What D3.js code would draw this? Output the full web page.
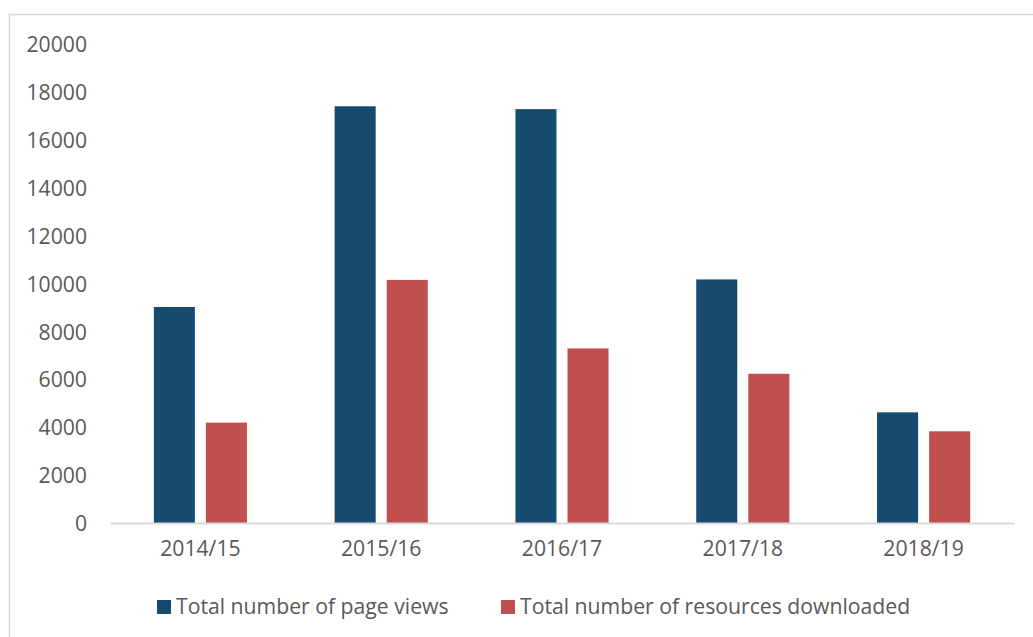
<!DOCTYPE html>
<html>
<head>
<meta charset="utf-8">
<script src="https://cdn.jsdelivr.net/npm/d3@7"></script>
<style>
  html, body { margin: 0; padding: 0; background: #fff; }
  svg { display: block; }
  text { font-family: "Open Sans", "Noto Sans", sans-serif; fill: #595959; }
</style>
</head>
<body>
<svg id="chart" width="1033" height="637"></svg>
<script>
// Academic years on the category axis
const years = ["2014/15", "2015/16", "2016/17", "2017/18", "2018/19"];
// Series values
const pageViews = [9020, 17400, 17280, 10170, 4620];
const downloads = [4190, 10150, 7290, 6230, 3830];
// Series names and value-axis ticks
const seriesNames = ["Total number of page views", "Total number of resources downloaded"];
const yTicks = [0, 2000, 4000, 6000, 8000, 10000, 12000, 14000, 16000, 18000, 20000];

const colors = ["#164A6E", "#C0504D"];
const series = [pageViews, downloads];
const fontSize = 21.2;

const svg = d3.select("#chart");
const W = 1033, H = 637;
const plot = { left: 110, right: 1014, top: 44, bottom: 523 };

// outer chart frame
svg.append("rect")
  .attr("x", 9.5).attr("y", 14.5)
  .attr("width", W + 20).attr("height", H + 20)
  .attr("fill", "#fff").attr("stroke", "#D9D9D9").attr("stroke-width", 1.5);

const x = d3.scaleBand().domain(years).range([plot.left, plot.right]).padding(0);
const y = d3.scaleLinear().domain([0, 20000]).range([plot.bottom, plot.top]);

// bars within each category: width ~ 22.7% of band, gap between the pair
const barW = x.bandwidth() * 0.227;
const barGap = x.bandwidth() * 0.061;
const x1 = d3.scaleBand().domain([0, 1])
  .range([0, barW * 2 + barGap]).paddingInner(barGap / (barW + barGap));

series.forEach((vals, si) => {
  svg.append("g").selectAll("rect")
    .data(vals)
    .join("rect")
    .attr("x", (d, i) => x(years[i]) + x.bandwidth() / 2 - (barW * 2 + barGap) / 2 + x1(si))
    .attr("y", d => y(d))
    .attr("width", x1.bandwidth())
    .attr("height", d => y(0) - y(d))
    .attr("fill", colors[si]);
});

// value axis labels (no axis line)
const yAxis = svg.append("g")
  .attr("transform", `translate(${87},0)`)
  .call(d3.axisLeft(y).tickValues(yTicks).tickSize(0).tickPadding(0).tickFormat(d3.format("d")));
yAxis.select(".domain").remove();
yAxis.selectAll("text")
  .attr("font-size", fontSize)
  .attr("font-family", "\"Open Sans\", sans-serif")
  .attr("fill", "#595959")
  .attr("dy", "0.36em");

// category axis
const xAxis = svg.append("g")
  .attr("transform", `translate(0,${plot.bottom})`)
  .call(d3.axisBottom(x).tickSize(0).tickPadding(18));
xAxis.select(".domain").attr("stroke", "#D9D9D9").attr("stroke-width", 2);
xAxis.selectAll("text")
  .attr("font-size", fontSize)
  .attr("font-family", "\"Open Sans\", sans-serif")
  .attr("fill", "#595959");

// legend
const legendX = [157, 501];
const legend = svg.append("g");
seriesNames.forEach((name, i) => {
  legend.append("rect")
    .attr("x", legendX[i]).attr("y", 600)
    .attr("width", 14).attr("height", 14)
    .attr("fill", colors[i]);
  legend.append("text")
    .attr("x", legendX[i] + 19).attr("y", 607)
    .attr("dy", "0.35em")
    .attr("font-size", fontSize)
    .text(name);
});
</script>
</body>
</html>
